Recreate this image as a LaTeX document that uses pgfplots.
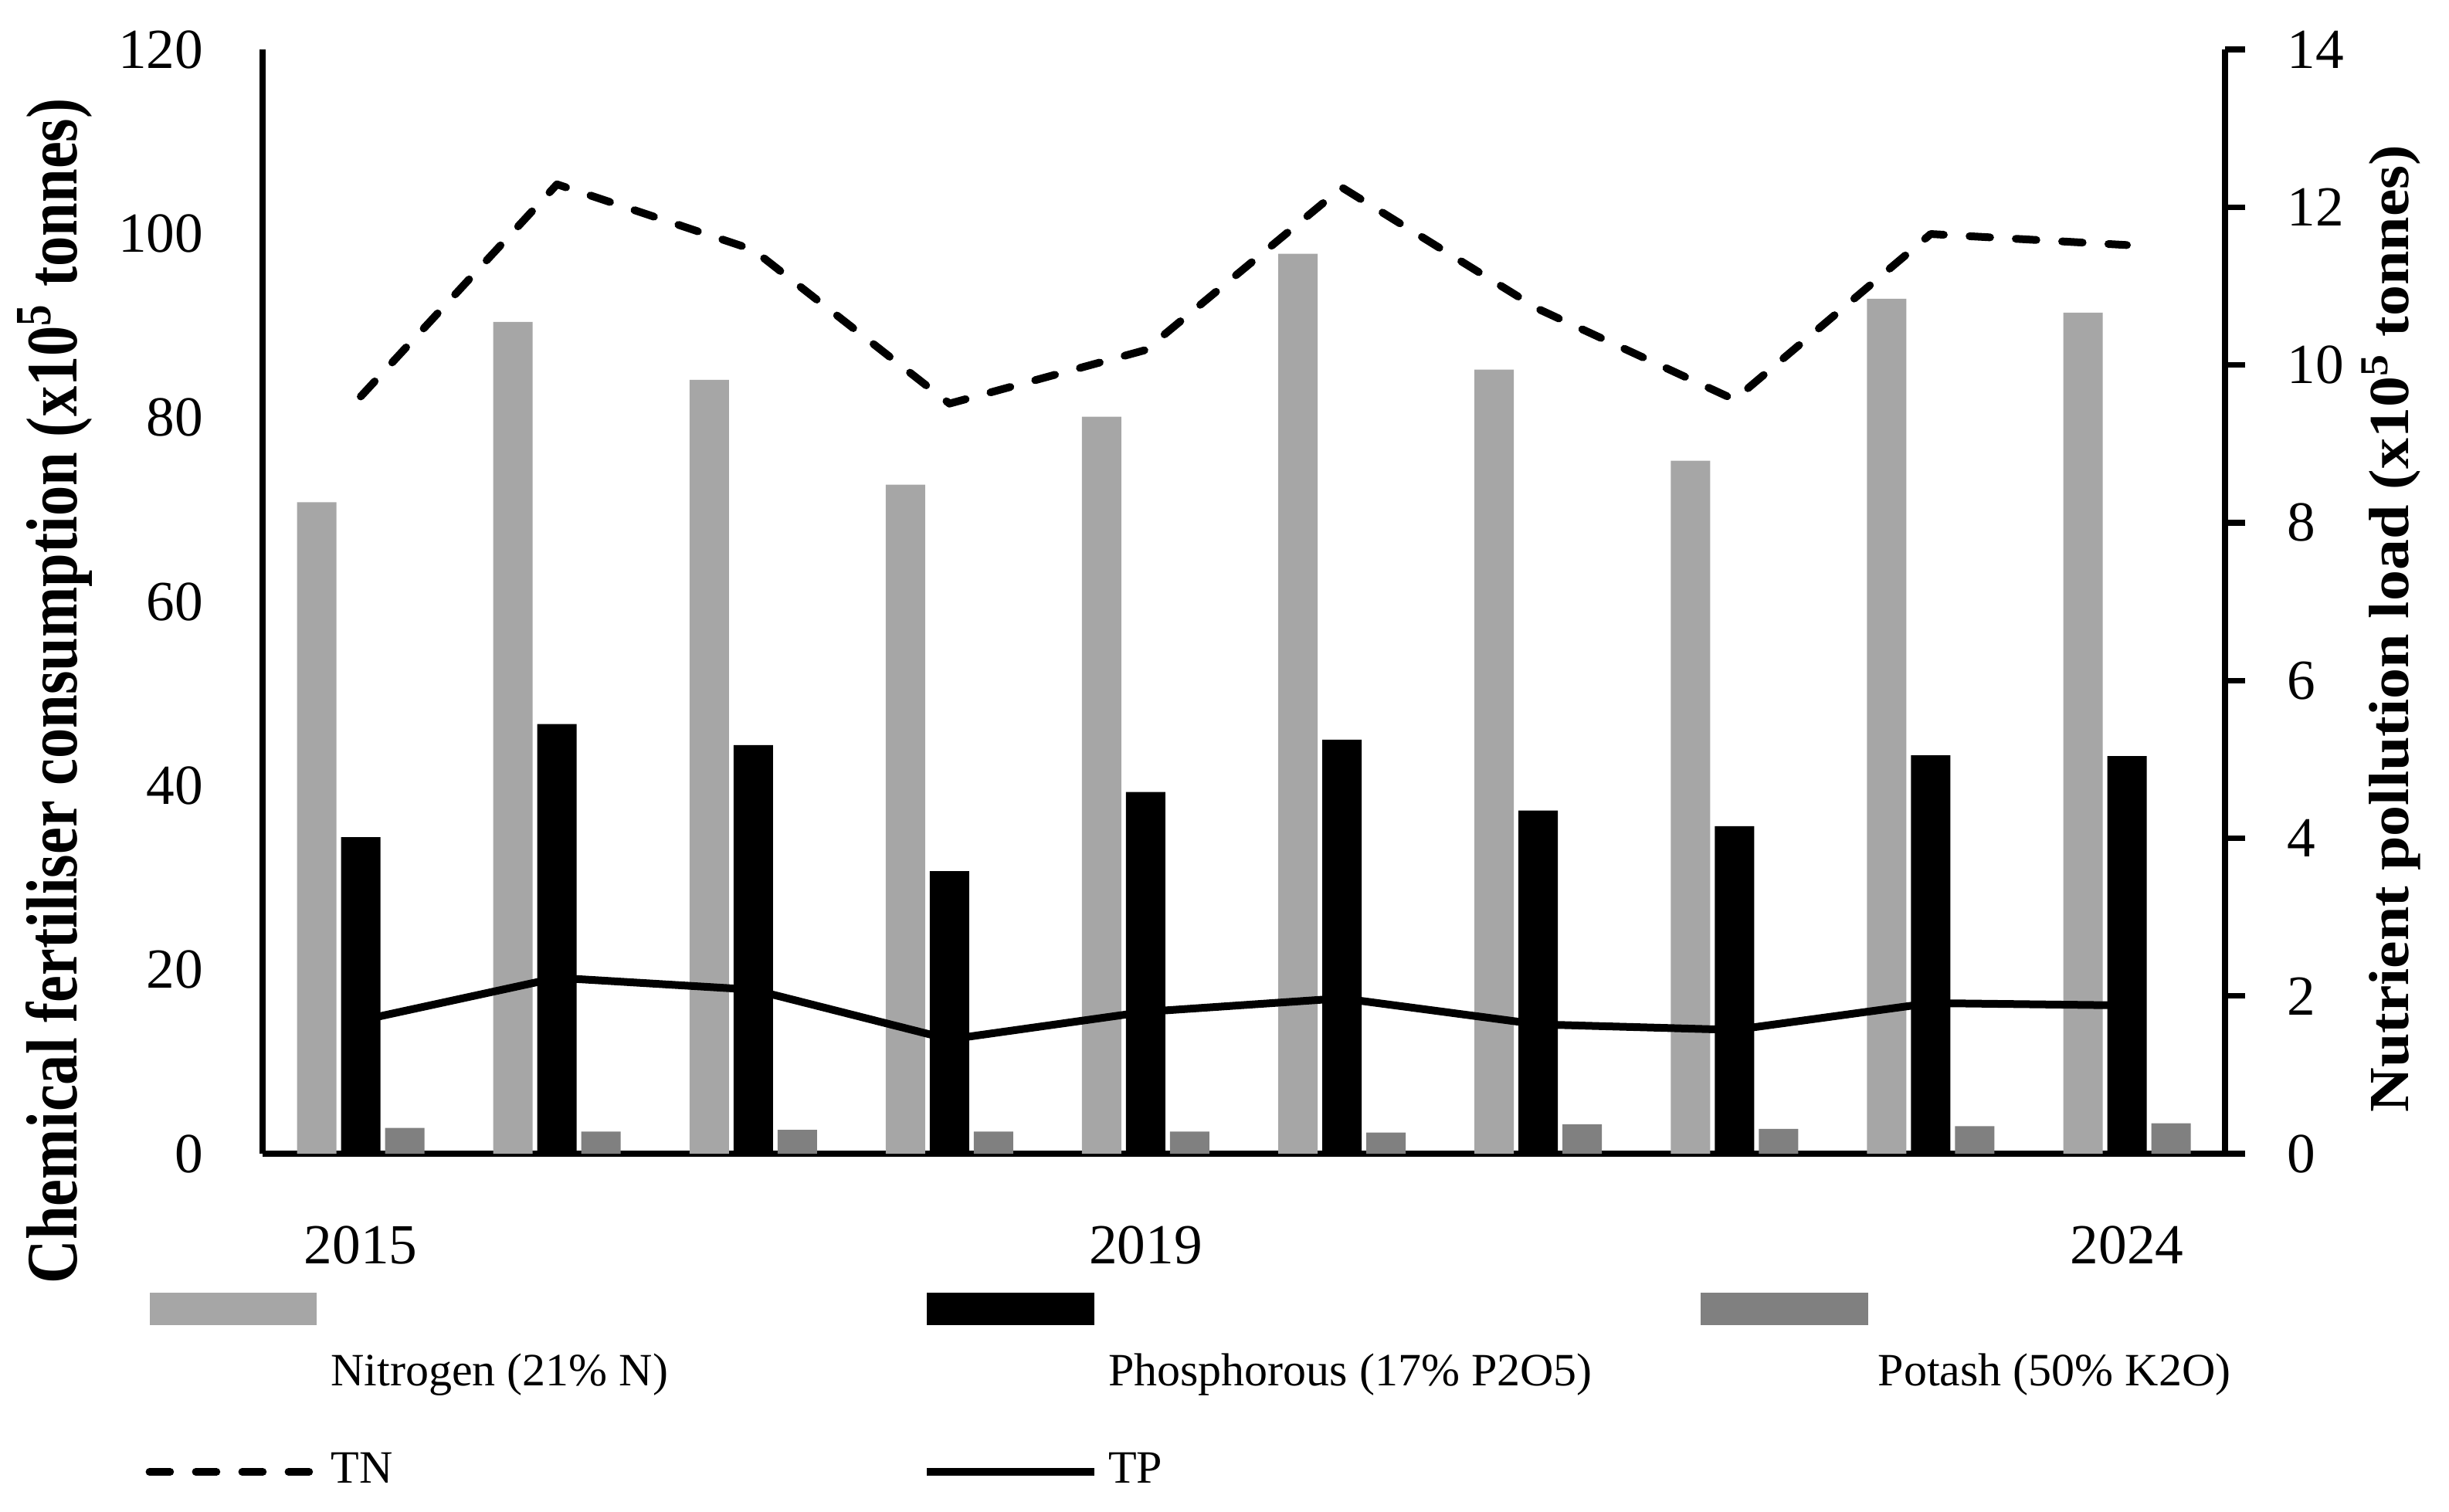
\documentclass[border=0pt]{standalone}
\usepackage{fontspec}
\setmainfont{Liberation Serif}
\usepackage{graphicx}
\usepackage{pgfplots}
\usepackage{pgfplotstable}
\pgfplotsset{compat=1.18}

\definecolor{nitro}{HTML}{A6A6A6}
\definecolor{potash}{HTML}{808080}

% fertiliser use, x10^5 t (left axis)
\pgfplotstableread{
x  N     P     K
0  70.8  34.4  2.8
1  90.4  46.7  2.4
2  84.1  44.4  2.6
3  72.7  30.7  2.4
4  80.1  39.3  2.4
5  97.8  45.0  2.3
6  85.2  37.3  3.2
7  75.3  35.6  2.7
8  92.9  43.3  3.0
9  91.4  43.2  3.3
}\fert

% nutrient load, x10^5 t (right axis)
\pgfplotstableread{
x  TN     TP
0  9.60   1.69
1  12.29  2.23
2  11.46  2.08
3  9.51   1.45
4  10.19  1.80
5  12.25  1.97
6  10.71  1.64
7  9.56   1.57
8  11.66  1.91
9  11.52  1.88
}\load

\pgfplotsset{
  barleg/.style={legend image code/.code={%
    \path (0pt,0pt) (32.5pt,0pt);
    \fill[overlay] (0pt,9.5pt) rectangle (32.5pt,15.7pt);}},
  lineleg/.style={legend image code/.code={%
    \draw (0pt,0pt) -- (32.5pt,0pt);}},
}

\begin{document}
\begin{tikzpicture}
\begin{axis}[
  scale only axis,
  width=381.15pt, height=214.5pt,
  xmin=-0.5, xmax=9.5, ymin=0, ymax=120,
  axis x line*=bottom, axis y line*=left,
  axis line style={line width=1.1pt, -},
  xtick={0,4,9}, xticklabels={2015,2019,2024},
  ytick={0,20,...,120},
  major tick length=0pt,
  ybar=0.9pt, bar width=7.65pt,
  clip=false,
  /pgf/number format/assume math mode=true,
  tick label style={font=\fontsize{11}{13}\selectfont},
  yticklabel style={xshift=-8pt},
  xticklabel style={yshift=-10.5pt},
  every axis y label/.style={at={(axis description cs:-0.106,0.419)}, rotate=90, anchor=center},
  ylabel={\fontsize{11}{13}\selectfont\scalebox{1.07}[1.28]{\bfseries Chemical fertiliser consumption (x10\textsuperscript{5} tonnes)}},
  legend columns=3,
  legend cell align=left,
  legend style={draw=none, fill=none, at={(axis description cs:-0.068,-0.1616)}, anchor=north west,
    font=\fontsize{9}{11}\selectfont, row sep=7.5pt,
    /tikz/every even column/.append style={column sep=8pt}},
]
\addplot[fill=nitro, draw=none, barleg] table[x=x, y=N] {\fert};
\addlegendentry{\makebox[105pt][l]{Nitrogen (21\% N)}}
\addplot[fill=black, draw=none, barleg] table[x=x, y=P] {\fert};
\addlegendentry{\makebox[105pt][l]{Phosphorous (17\% P2O5)}}
\addplot[fill=potash, draw=none, barleg] table[x=x, y=K] {\fert};
\addlegendentry{\makebox[105pt][l]{Potash (50\% K2O)}}
\addlegendimage{black, line width=1.5pt, dash pattern=on 4pt off 5pt, line cap=round, lineleg}
\addlegendentry{\makebox[105pt][l]{TN}}
\addlegendimage{black, line width=1.5pt, lineleg}
\addlegendentry{\makebox[105pt][l]{TP}}
\end{axis}

\begin{axis}[
  scale only axis,
  width=381.15pt, height=214.5pt,
  xmin=-0.5, xmax=9.5, ymin=0, ymax=14,
  axis x line=none, axis y line*=right,
  axis line style={line width=1.1pt, -},
  ytick={0,2,...,14},
  major tick length=3.9pt, tick align=outside,
  ytick style={line width=1.1pt, black},
  clip=false,
  /pgf/number format/assume math mode=true,
  tick label style={font=\fontsize{11}{13}\selectfont},
  yticklabel style={xshift=4.7pt},
  every axis y label/.style={at={(axis description cs:1.0846,0.4755)}, rotate=90, anchor=center},
  ylabel={\fontsize{11}{13}\selectfont\scalebox{1.09}[1]{\bfseries Nutrient pollution load (x10\textsuperscript{5} tonnes)}},
]
\addplot[black, line width=1.5pt, dash pattern=on 4pt off 5pt, line cap=round, line join=round] table[x=x, y=TN] {\load};
\addplot[black, line width=1.5pt, line join=round] table[x=x, y=TP] {\load};
\path (rel axis cs:-0.1338,-0.3217) rectangle (rel axis cs:1.1141,1.0448);
\end{axis}
\end{tikzpicture}
\end{document}
